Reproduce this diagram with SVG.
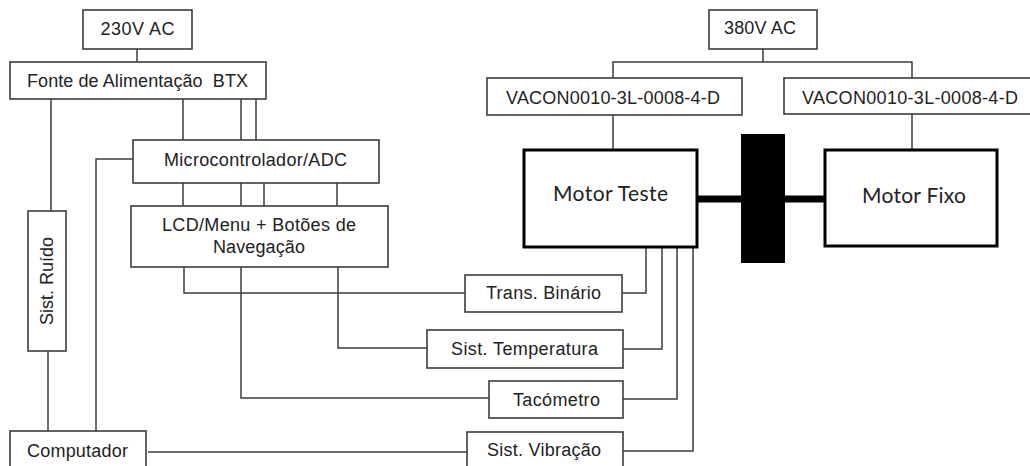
<svg xmlns="http://www.w3.org/2000/svg" width="1030" height="466" viewBox="0 0 1030 466">
<style>
.box{fill:#fff;stroke:#3c3c3c;stroke-width:1.6}
.mot{fill:#fff;stroke:#000;stroke-width:3}
.t{font-family:"Liberation Sans",Arial,sans-serif;font-size:18px;fill:#222;text-anchor:middle}
.m{font-family:Lato,"Open Sans",sans-serif;font-size:21px;fill:#222;text-anchor:middle}
.ln{fill:none;stroke:#3c3c3c;stroke-width:1.5}
.shaft{fill:none;stroke:#000;stroke-width:7}
</style>
<rect width="1030" height="466" fill="#fff"/>
<g id="connectors">
<path class="ln" d="M137,49V62"/>
<path class="ln" d="M51,99V211"/>
<path class="ln" d="M183,99V140M241,99V140M256,99V140"/>
<path class="ln" d="M133,159H96V431"/>
<path class="ln" d="M183,183V206M241,183V206M264,183V206M337,183V206"/>
<path class="ln" d="M184,267V293H465"/>
<path class="ln" d="M338,267V348H427"/>
<path class="ln" d="M241,267V398H489"/>
<path class="ln" d="M48,351V431"/>
<path class="ln" d="M148,452H467"/>
<path class="ln" d="M622,293H646V247"/>
<path class="ln" d="M623,349H662V247"/>
<path class="ln" d="M623,399H677V247"/>
<path class="ln" d="M623,451H693V247"/>
<path class="ln" d="M763,49V62M613,78V62H912V78"/>
<path class="ln" d="M613,115V150"/>
<path class="ln" d="M912,114V150"/>
<path class="shaft" d="M697,199H741M785,199H825"/>
</g>
<g id="n230"><rect class="box" x="83" y="10" width="109" height="39"/><text class="t" x="137.5" y="35" textLength="74">230V AC</text></g>
<g id="fonte"><rect class="box" x="10" y="62" width="256" height="37"/><text class="t" x="137.5" y="87" textLength="221" xml:space="preserve">Fonte de Alimentação  BTX</text></g>
<g id="micro"><rect class="box" x="133" y="140" width="246" height="43"/><text class="t" x="255.5" y="166" textLength="183">Microcontrolador/ADC</text></g>
<g id="lcd"><rect class="box" x="131" y="206" width="257" height="61"/><text class="t" x="259" y="231" textLength="194">LCD/Menu + Botões de</text><text class="t" x="259" y="253" textLength="92">Navegação</text></g>
<g id="ruido"><rect class="box" x="28" y="211" width="38" height="140"/><text class="t" transform="translate(53,281) rotate(-90)" textLength="88">Sist. Ruído</text></g>
<g id="computador"><rect class="box" x="10" y="431" width="136" height="40"/><text class="t" x="77.5" y="457" textLength="101">Computador</text></g>
<g id="binario"><rect class="box" x="465" y="275" width="157" height="37"/><text class="t" x="543.5" y="299" textLength="115">Trans. Binário</text></g>
<g id="temperatura"><rect class="box" x="427" y="330" width="196" height="38"/><text class="t" x="524.5" y="355" textLength="147">Sist. Temperatura</text></g>
<g id="tacometro"><rect class="box" x="489" y="381" width="134" height="37"/><text class="t" x="556.5" y="406" textLength="87">Tacómetro</text></g>
<g id="vibracao"><rect class="box" x="467" y="432" width="156" height="40"/><text class="t" x="544" y="456" textLength="114">Sist. Vibração</text></g>
<g id="n380"><rect class="box" x="709" y="10" width="108" height="39"/><text class="t" x="760" y="34" textLength="72">380V AC</text></g>
<g id="vacon1"><rect class="box" x="487" y="78" width="255" height="37"/><text class="t" x="613" y="104" textLength="214">VACON0010-3L-0008-4-D</text></g>
<g id="vacon2"><rect class="box" x="784" y="78" width="260" height="36"/><text class="t" x="910" y="104" textLength="216">VACON0010-3L-0008-4-D</text></g>
<g id="motorTeste"><rect class="mot" x="524" y="150" width="173" height="97"/><text class="m" x="610.5" y="201" textLength="115">Motor Teste</text></g>
<g id="acoplamento"><rect x="741" y="134" width="44" height="129" fill="#000"/></g>
<g id="motorFixo"><rect class="mot" x="825" y="150" width="172" height="96"/><text class="m" x="914" y="203" textLength="104">Motor Fixo</text></g>
</svg>
